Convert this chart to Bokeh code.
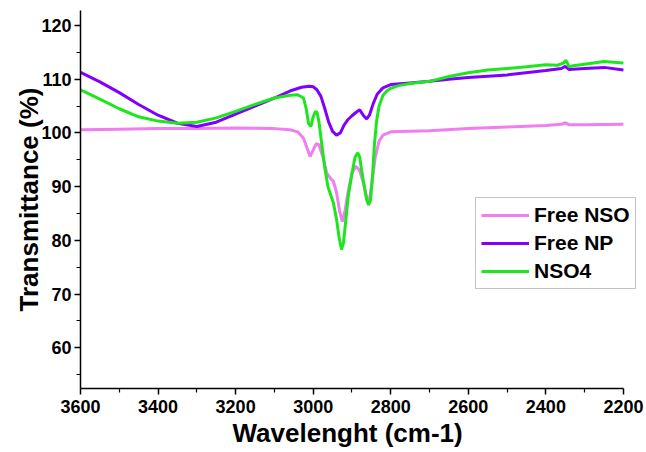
from bokeh.plotting import figure
from bokeh.models import Range1d, FixedTicker, Legend, LegendItem, Title
from bokeh.embed import file_html
from bokeh.resources import INLINE

# ---- data ----
nso_x = [3600, 3500, 3400, 3300, 3200, 3100, 3060, 3040, 3025, 3015, 3008, 3000, 2992, 2985,
         2975, 2965, 2955, 2948, 2940, 2932, 2925, 2918, 2910, 2900, 2890, 2880, 2870, 2862,
         2855, 2848, 2840, 2830, 2820, 2800, 2750, 2700, 2600, 2500, 2400, 2360, 2350, 2340,
         2300, 2200]
nso_y = [100.6, 100.7, 100.8, 100.8, 100.9, 100.8, 100.6, 100.2, 99.0, 97.0, 95.6, 96.8, 98.0, 97.8,
         95.5, 92.5, 91.5, 91.0, 89.0, 85.5, 83.5, 85.5, 89.0, 92.5, 93.8, 93.0, 90.5, 88.0,
         87.5, 91.0, 95.5, 98.5, 99.6, 100.2, 100.3, 100.4, 100.8, 101.1, 101.4, 101.6, 101.9, 101.5,
         101.5, 101.6]

np_x = [3600, 3550, 3500, 3450, 3400, 3350, 3300, 3250, 3200, 3150, 3100, 3060, 3030, 3010,
        3000, 2990, 2980, 2970, 2960, 2950, 2940, 2930, 2920, 2910, 2900, 2890, 2880, 2870,
        2862, 2855, 2845, 2835, 2820, 2800, 2750, 2700, 2650, 2600, 2500, 2400, 2360, 2350,
        2340, 2300, 2250, 2200]
np_y = [111.3, 109.5, 107.5, 105.3, 103.3, 101.8, 101.2, 102.0, 103.5, 105.0, 106.5, 107.8, 108.5, 108.7,
        108.6, 108.0, 106.8, 104.5, 102.0, 100.3, 99.6, 100.0, 101.5, 102.5, 103.2, 103.8, 104.3, 103.2,
        102.6, 103.3, 105.5, 107.2, 108.4, 109.0, 109.3, 109.6, 110.0, 110.3, 110.8, 111.6, 112.0, 112.4,
        111.8, 112.0, 112.2, 111.7]

nso4_x = [3600, 3550, 3500, 3450, 3400, 3350, 3300, 3250, 3200, 3150, 3100, 3060, 3040, 3025,
          3018, 3012, 3006, 3000, 2994, 2990, 2985, 2978, 2970, 2962, 2955, 2948, 2940, 2933,
          2927, 2922, 2917, 2910, 2900, 2892, 2885, 2880, 2875, 2868, 2862, 2857, 2852, 2847,
          2842, 2836, 2830, 2820, 2810, 2800, 2780, 2750, 2700, 2650, 2600, 2550, 2500, 2450,
          2400, 2370, 2355, 2348, 2340, 2330, 2300, 2250, 2200]
nso4_y = [108.0, 106.3, 104.5, 103.0, 102.2, 101.8, 102.0, 102.8, 104.0, 105.3, 106.5, 107.0, 107.1, 106.5,
          104.5, 101.8, 101.2, 103.0, 104.0, 103.8, 102.0, 98.0, 93.5, 90.0, 88.5, 87.0, 84.0, 80.5,
          78.3, 79.5, 83.0, 88.0, 92.5, 95.5, 96.3, 95.5, 93.0, 90.0, 87.5, 86.6, 87.5, 92.0,
          98.0, 102.5, 105.0, 107.0, 107.8, 108.3, 108.8, 109.2, 109.6, 110.5, 111.2, 111.7, 112.0, 112.3,
          112.7, 112.6, 113.0, 113.5, 112.3, 112.5, 112.8, 113.3, 113.0]

series_names = ["Free NSO", "Free NP", "NSO4"]
series_colors = ["#F07EF0", "#7F00FF", "#1EE61E"]

x_ticks = [3600, 3400, 3200, 3000, 2800, 2600, 2400, 2200]
x_minor = [3500, 3300, 3100, 2900, 2700, 2500, 2300]
y_ticks = [60, 70, 80, 90, 100, 110, 120]
y_minor = [55, 65, 75, 85, 95, 105, 115]

x_title = "Wavelenght (cm-1)"
y_title = "Transmittance (%)"

FONT = "Liberation Sans"

# frame spans past 2200 so the legend is not clipped; the x axis line stops at 2200
p = figure(width=646, height=452, output_backend="svg", toolbar_location=None,
           x_range=Range1d(3600, 2156), y_range=Range1d(52.42, 122.79),
           min_border_left=80, min_border_right=6, min_border_top=10, min_border_bottom=64)
p.outline_line_color = None
p.xgrid.visible = False
p.ygrid.visible = False
p.background_fill_color = "white"
p.border_fill_color = "white"

renderers = []
for xs, ys, c in [(nso_x, nso_y, series_colors[0]), (np_x, np_y, series_colors[1]),
                  (nso4_x, nso4_y, series_colors[2])]:
    renderers.append(p.line(xs, ys, line_color=c, line_width=3))

for ax, ticks, minor in [(p.xaxis[0], x_ticks, x_minor), (p.yaxis[0], y_ticks, y_minor)]:
    ax.ticker = FixedTicker(ticks=ticks, minor_ticks=minor)
    ax.axis_line_color = "black"
    ax.axis_line_width = 1.5
    ax.major_tick_line_color = "black"
    ax.major_tick_line_width = 1.5
    ax.minor_tick_line_color = "black"
    ax.minor_tick_line_width = 1.2
    ax.major_tick_out = 6
    ax.major_tick_in = 0
    ax.minor_tick_out = 4
    ax.minor_tick_in = 0
    ax.major_label_text_font = FONT
    ax.major_label_text_font_style = "bold"
    ax.major_label_text_font_size = "18px"
    ax.major_label_text_color = "black"
    ax.axis_label_text_font = FONT
    ax.axis_label_text_font_style = "bold"
    ax.axis_label_text_font_size = "26px"
    ax.axis_label_text_color = "black"

p.xaxis.bounds = (2200, 3600)
p.xaxis.major_label_standoff = 5
p.yaxis.axis_label = y_title
p.yaxis.major_label_standoff = 3
p.yaxis.axis_label_standoff = -6

# x title centred under the 3600..2200 axis (not under the wider frame)
xt = Title(text=x_title, align="left", offset=152, standoff=0,
           text_font=FONT, text_font_style="bold", text_font_size="26px", text_color="black")
p.add_layout(xt, "below")

legend = Legend(items=[LegendItem(label=n, renderers=[r]) for n, r in zip(series_names, renderers)],
                location=(395, 99))
legend.label_text_font = FONT
legend.label_text_font_style = "bold"
legend.label_text_font_size = "21px"
legend.label_text_color = "black"
legend.glyph_width = 48
legend.glyph_height = 24
legend.label_height = 24
legend.label_standoff = 5
legend.spacing = 4
legend.padding = 5
legend.border_line_color = "#888888"
legend.border_line_width = 1
legend.background_fill_alpha = 1
p.add_layout(legend)

open("out.html", "w").write(file_html(p, INLINE))
